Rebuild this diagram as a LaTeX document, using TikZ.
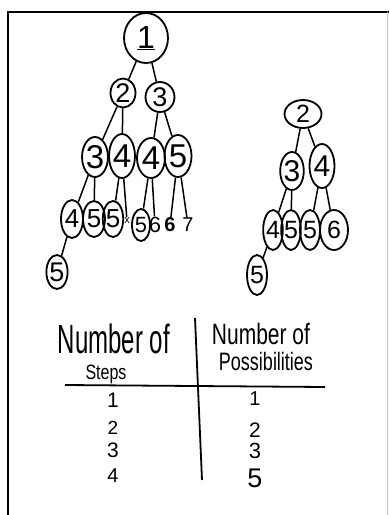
\documentclass[tikz,border=0pt]{standalone}
\usepackage{fontspec}
\setmainfont{Liberation Sans}
\usetikzlibrary{shapes.geometric}
\newcommand\hfs[1]{\fontsize{#1}{#1}\selectfont}
\begin{document}
\begin{tikzpicture}[x=1pt,y=-1pt,line width=1.6pt,
  circ/.style={ellipse,draw,inner sep=0pt,line width=1.8pt},
  bare/.style={inner sep=0pt},
  edge/.style={line width=1.5pt},
  tab/.style={anchor=base,inner sep=0pt}]
\useasboundingbox (0,0) rectangle (389,515);
\fill[white] (0,0) rectangle (389,515);
% frame
\draw[line width=2.6pt] (8,515) -- (8,12) -- (389,12);
\draw[gray!45,line width=1pt] (387,12) -- (387,515);
% left tree
\node[circ,minimum width=44pt,minimum height=50pt,font=\hfs{32}] (n1) at (146,38) {\underline{1}};
\node[circ,minimum width=25pt,minimum height=29pt,font=\hfs{27}] (n2) at (123,93) {2};
\node[circ,minimum width=29pt,minimum height=30pt,font=\hfs{27}] (n3) at (160,97) {3};
\node[circ,minimum width=25pt,minimum height=40pt,font=\hfs{33}] (a3) at (95,157) {3};
\node[circ,minimum width=25pt,minimum height=44pt,font=\hfs{33}] (a4) at (122,156) {4};
\node[circ,minimum width=28pt,minimum height=40pt,font=\hfs{33}] (b4) at (151,158) {4};
\node[circ,minimum width=27pt,minimum height=42pt,font=\hfs{33}] (b5) at (178,156) {5};
\node[circ,minimum width=22pt,minimum height=38pt,font=\hfs{26}] (c4) at (72,219) {4};
\node[circ,minimum width=22pt,minimum height=36pt,font=\hfs{26}] (c5) at (94,219) {5};
\node[circ,minimum width=17pt,minimum height=36pt,font=\hfs{26}] (d5) at (113,219) {5};
\node[bare,font=\hfs{11}] (dx) at (127,221) {x};
\node[circ,minimum width=18pt,minimum height=32pt,font=\hfs{22}] (e5) at (141,225) {5};
\node[bare,font=\hfs{22}] (e6) at (155,225) {6};
\node[bare,font=\bfseries\hfs{20}] (f6) at (170,225) {6};
\node[bare,font=\hfs{20}] (f7) at (188,225) {7};
\node[circ,minimum width=21pt,minimum height=34pt,font=\hfs{27}] (g5) at (57,272) {5};
\draw[edge] (n1) -- (n2); \draw[edge] (n1) -- (n3);
\draw[edge] (n2) -- (a3); \draw[edge] (n2) -- (a4);
\draw[edge] (n3) -- (b4); \draw[edge] (n3) -- (b5);
\draw[edge] (a3) -- (c4); \draw[edge] (a3) -- (c5);
\draw[edge] (a4) -- (d5); \draw[edge] (a4) -- (dx);
\draw[edge] (b4) -- (e5); \draw[edge] (b4) -- (e6);
\draw[edge] (b5) -- (f6); \draw[edge] (b5) -- (f7);
\draw[edge] (c4) -- (g5);
% right tree
\node[circ,minimum width=37pt,minimum height=28pt,font=\hfs{25}] (r2) at (303,114) {2};
\node[circ,minimum width=21pt,minimum height=38pt,font=\hfs{30}] (r3) at (292,171) {3};
\node[circ,minimum width=25pt,minimum height=44pt,font=\hfs{30}] (r4) at (322,166) {4};
\node[circ,minimum width=18pt,minimum height=40pt,font=\hfs{25}] (s4) at (273,230) {4};
\node[circ,minimum width=18pt,minimum height=40pt,font=\hfs{25}] (s5) at (291,230) {5};
\node[circ,minimum width=20pt,minimum height=40pt,font=\hfs{25}] (t5) at (310,230) {5};
\node[circ,minimum width=28pt,minimum height=40pt,font=\hfs{25}] (t6) at (334,230) {6};
\node[circ,minimum width=20pt,minimum height=40pt,font=\hfs{25}] (u5) at (257,275) {5};
\draw[edge] (r2) -- (r3); \draw[edge] (r2) -- (r4);
\draw[edge] (r3) -- (s4); \draw[edge] (r3) -- (s5);
\draw[edge] (r4) -- (t5); \draw[edge] (r4) -- (t6);
\draw[edge] (s4) -- (u5);
% table
\node[tab,font=\hfs{24}] (h1) at (114,353) {\scalebox{1}[1.7]{Number of}};
\node[tab,font=\hfs{16}] (h2) at (106,379) {\scalebox{1}[1.3]{Steps}};
\node[tab,font=\hfs{21}] (h3) at (261,344) {\scalebox{1}[1.4]{Number of}};
\node[tab,font=\hfs{18}] (h4) at (266,370) {\scalebox{1}[1.4]{Possibilities}};
\coordinate (hl) at (65,385); \coordinate (hr) at (325,387);
\coordinate (vt) at (195,318); \coordinate (vb) at (202,480);
\draw[line width=1.8pt] (hl) -- (hr);
\draw[line width=1.8pt] (vt) -- (vb);
\node[tab,font=\hfs{21}] (s1) at (113,407) {1};
\node[tab,font=\hfs{19}] (s2) at (113,434) {2};
\node[tab,font=\hfs{21}] (s3) at (113,457) {3};
\node[tab,font=\hfs{20}] (s4n) at (113,482) {4};
\node[tab,font=\hfs{20}] (p1) at (255,405) {1};
\node[tab,font=\hfs{21}] (p2) at (255,437) {2};
\node[tab,font=\hfs{22}] (p3) at (255,458) {3};
\node[tab,font=\hfs{27}] (p5) at (255,487) {5};
\end{tikzpicture}
\end{document}
